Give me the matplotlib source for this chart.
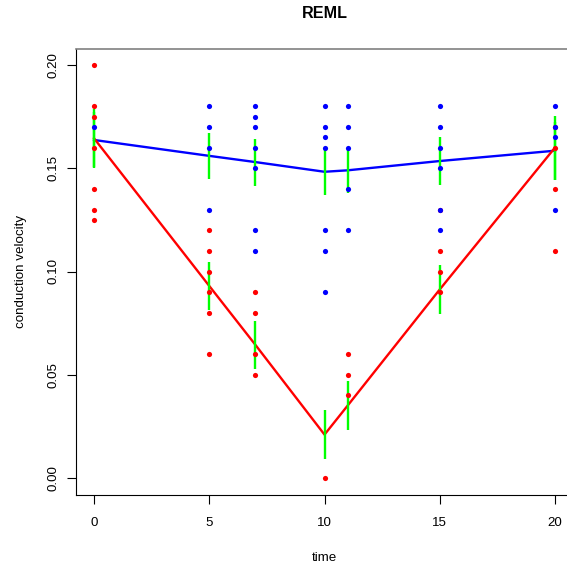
import matplotlib
matplotlib.use("Agg")
import matplotlib.pyplot as plt
import numpy as np

plt.rcParams['font.family'] = ['Liberation Sans', 'DejaVu Sans']

# time points
times = [0, 5, 7, 10, 11, 15, 20]

# fitted values (REML) per group
blue_fit = [0.1637, 0.1560, 0.1530, 0.1483, 0.1490, 0.1535, 0.1585]
red_fit = [0.1645, 0.0930, 0.0645, 0.0210, 0.0350, 0.0913, 0.1600]
# half-widths of the green intervals
blue_se = [0.0135, 0.0112, 0.0114, 0.0113, 0.0110, 0.0117, 0.0140]
red_se = [0.0140, 0.0115, 0.0115, 0.0120, 0.0118, 0.0118, 0.0155]

# observations
red_t = [0, 0, 0, 0, 0, 0, 0,
         5, 5, 5, 5, 5, 5,
         7, 7, 7, 7,
         10,
         11, 11, 11,
         15, 15, 15, 15,
         20, 20, 20, 20]
red_v = [0.20, 0.18, 0.175, 0.16, 0.14, 0.13, 0.125,
         0.12, 0.11, 0.10, 0.09, 0.08, 0.06,
         0.09, 0.08, 0.06, 0.05,
         0.00,
         0.06, 0.05, 0.04,
         0.13, 0.11, 0.10, 0.09,
         0.17, 0.16, 0.14, 0.11]
blue_t = [0,
          5, 5, 5, 5,
          7, 7, 7, 7, 7, 7, 7,
          10, 10, 10, 10, 10, 10, 10,
          11, 11, 11, 11, 11,
          15, 15, 15, 15, 15, 15,
          20, 20, 20, 20]
blue_v = [0.17,
          0.18, 0.17, 0.16, 0.13,
          0.18, 0.175, 0.17, 0.16, 0.15, 0.12, 0.11,
          0.18, 0.17, 0.165, 0.16, 0.12, 0.11, 0.09,
          0.18, 0.17, 0.16, 0.14, 0.12,
          0.18, 0.17, 0.16, 0.15, 0.13, 0.12,
          0.18, 0.17, 0.165, 0.13]

xticks = [0, 5, 10, 15, 20]
yticks = [0.00, 0.05, 0.10, 0.15, 0.20]
ytick_labels = ["0.00", "0.05", "0.10", "0.15", "0.20"]

fig = plt.figure(figsize=(5.67, 5.68), dpi=100)
ax = fig.add_axes([75.6 / 567, 73.5 / 568, 497.8 / 567, 446.0 / 568])

ax.plot(times, blue_fit, color='#0000FF', lw=1.7, zorder=2)
ax.plot(times, red_fit, color='#FF0000', lw=1.7, zorder=2)

b = np.array(blue_fit); bs = np.array(blue_se)
r = np.array(red_fit); rs = np.array(red_se)
ax.vlines(times, b - bs, b + bs, color='#00FF00', lw=1.7, zorder=3)
ax.vlines(times, r - rs, r + rs, color='#00FF00', lw=1.7, zorder=3)

ax.scatter(red_t, red_v, s=14, color='#FF0000', linewidths=0, zorder=4)
ax.scatter(blue_t, blue_v, s=14, color='#0000FF', linewidths=0, zorder=5)

ax.set_xlim(-0.8, 20.8)
ax.set_ylim(-0.008, 0.208)
ax.set_xticks(xticks)
ax.set_xticklabels([str(t) for t in xticks])
ax.set_yticks(yticks)
ax.set_yticklabels(ytick_labels, rotation=90, va='center')

ax.tick_params(axis='both', direction='out', length=6.5, width=0.8,
               labelsize=9.6, colors='black')
ax.tick_params(axis='x', pad=9.5)
ax.tick_params(axis='y', pad=5)
for name, s in ax.spines.items():
    s.set_linewidth(0.8)
    s.set_color('black')
ax.spines['right'].set_visible(False)
ax.spines['top'].set_color('#808080')
ax.spines['top'].set_linewidth(1.2)

ax.set_xlabel('time', fontsize=9.6, labelpad=17)
ax.set_ylabel('conduction velocity', fontsize=9.6, labelpad=15)
ax.set_title('REML', fontsize=11.6, fontweight='bold', pad=22)

fig.savefig('out.png', dpi=100)
